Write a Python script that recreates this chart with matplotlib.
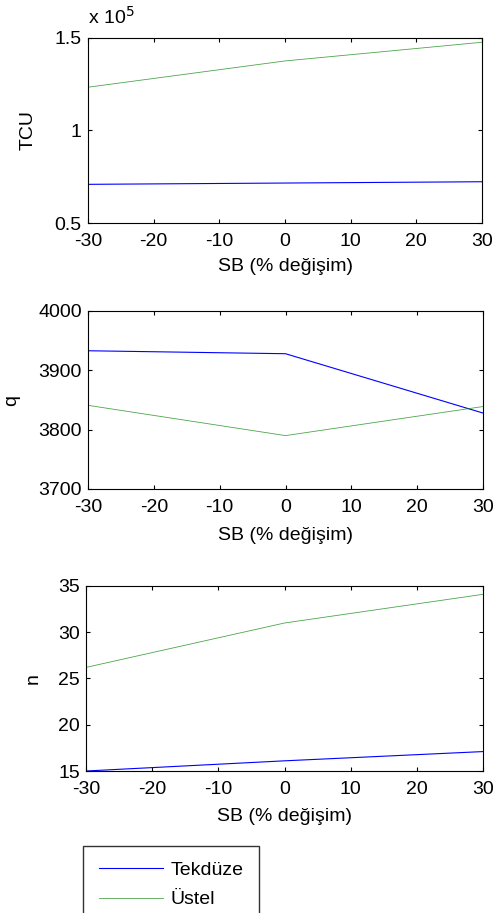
import numpy as np
import matplotlib.pyplot as plt
from matplotlib.ticker import FuncFormatter

plt.rcParams['font.family'] = ['Liberation Sans', 'DejaVu Sans']
plt.rcParams['font.size'] = 14
plt.rcParams['axes.unicode_minus'] = False

# SB change (%) and results for the two demand models
sb = [-30, 0, 30]
tcu_tekduze = [70900, 71600, 72300]
tcu_ustel = [123400, 137600, 147700]
q_tekduze = [3933, 3928, 3828]
q_ustel = [3841, 3790, 3839]
n_tekduze = [15.0, 16.1, 17.1]
n_ustel = [26.2, 31.0, 34.1]

blue = '#0000ff'
green = '#008000'

fig = plt.figure(figsize=(4.94, 9.13), dpi=100)
W, H = 494, 913

def add_ax(left, top, right, bottom):
    return fig.add_axes([left / W, 1 - bottom / H, (right - left) / W, (bottom - top) / H])

ax1 = add_ax(88, 38, 482, 223)
ax2 = add_ax(88, 311, 483, 489)
ax3 = add_ax(86, 586, 483, 771)

# axes, series, y label, limits, ticks, x-label row (px), y-label column (px)
panels = [
    (ax1, tcu_tekduze, tcu_ustel, 'TCU', (50000, 150000), [50000, 100000, 150000], 267, 28),
    (ax2, q_tekduze, q_ustel, 'q', (3700, 4000), [3700, 3800, 3900, 4000], 535, 12),
    (ax3, n_tekduze, n_ustel, 'n', (15, 35), [15, 20, 25, 30, 35], 816, 33),
]

for ax, yt, yu, lab, ylim, yticks, xlab_px, ylab_px in panels:
    l1, = ax.plot(sb, yt, color=blue, lw=0.8, label='Tekdüze')
    l2, = ax.plot(sb, yu, color=green, lw=0.6, alpha=0.7, label='Üstel')
    ax.set_xlim(-30, 30)
    ax.set_ylim(*ylim)
    ax.set_xticks(range(-30, 31, 10))
    ax.set_yticks(yticks)
    ax.tick_params(direction='in', top=True, right=True, length=3, width=0.8,
                   labelsize=14)
    ax.tick_params(axis='x', pad=7.5)
    ax.tick_params(axis='y', pad=4.5)
    for s in ax.spines.values():
        s.set_linewidth(0.8)
    pos = ax.get_position()
    ax.set_xlabel('SB (% değişim)', fontsize=14, va='center')
    ax.xaxis.set_label_coords(0.5, ((1 - xlab_px / H) - pos.y0) / pos.height)
    ax.set_ylabel(lab, fontsize=14, va='center')
    ax.yaxis.set_label_coords((ylab_px / W - pos.x0) / pos.width, 0.5)

ax1.yaxis.set_major_formatter(FuncFormatter(lambda v, p: f'{v / 1e5:g}'))
ax1.text(0.0, 1 + 10 / 185, r'x 10$^5$', transform=ax1.transAxes,
         fontsize=14, ha='left', va='bottom')

# legend box runs past the bottom edge of the figure
fig.legend([l1, l2], ['Tekdüze', 'Üstel'], loc='upper left',
           bbox_to_anchor=(83 / W, 1 - 846 / H), fontsize=14, frameon=True,
           fancybox=False, edgecolor='black', handlelength=3.3, handletextpad=0.4,
           borderpad=0.8, labelspacing=0.6, borderaxespad=0)

fig.savefig('out.png', dpi=100)
